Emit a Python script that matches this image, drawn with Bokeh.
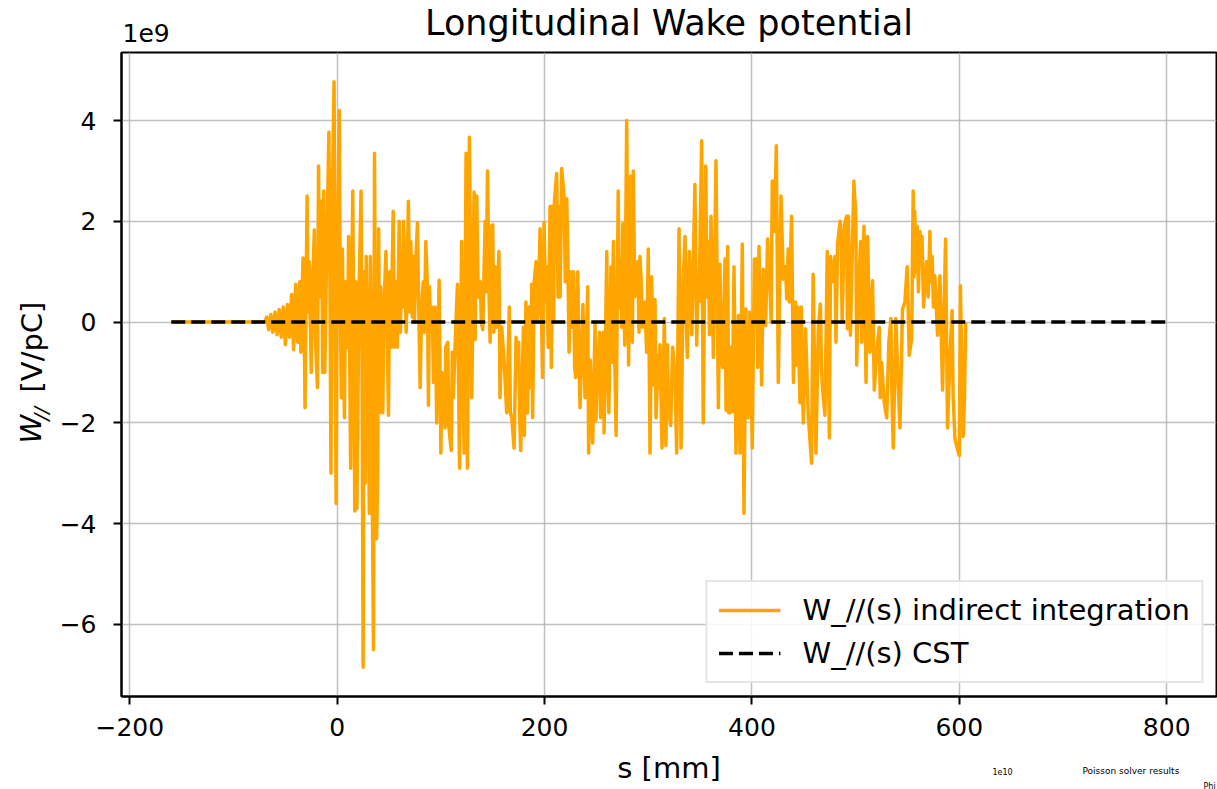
from bokeh.plotting import figure
from bokeh.models import Range1d, FixedTicker, Legend, LegendItem, Title
from bokeh.embed import file_html
from bokeh.resources import INLINE

FONT = "DejaVu Sans"

# ---- data (W values in units of 1e9 V/pC) ----
s_mm = [
    -160, -70, -68, -66, -64, -62, -60, -58, -56, -54,
    -52, -50, -48, -46, -44, -42, -40, -38, -36, -35,
    -33, -32, -31, -30, -29, -28, -27, -25, -24, -22,
    -21, -19, -18, -17, -15, -14, -13, -12, -10, -8,
    -7, -6, -5, -3, -2, -1, 0, 2, 3, 4,
    5, 7, 8, 10, 11, 13, 14, 15, 17, 18,
    19, 21, 23, 24, 25, 26, 27, 28, 30, 31,
    32, 33, 35, 36, 37, 38, 39, 40, 41, 42,
    44, 45, 47, 48, 49.5, 50.5, 52, 53, 54, 55,
    56, 57, 58, 59.8, 61, 62, 63, 64, 65.5, 66.5,
    68.7, 70, 71, 72.5, 73.6, 74.5, 75.8, 77.4, 78.5, 80,
    81.5, 83, 84, 85.5, 87, 88, 89, 90, 91.5, 93,
    94.5, 96, 98.3, 100, 101, 102.5, 104, 104.7, 106.7, 107.5,
    110, 111, 112, 114, 116, 118, 120, 121, 122.4, 124.3,
    125.6, 127.5, 129.8, 131, 132, 133, 134.6, 136, 138, 139,
    140.4, 142.7, 143.5, 145, 146.5, 147.5, 148.5, 150, 151, 152.3,
    153.5, 156, 157, 158.7, 161, 163.5, 166, 167, 168.4, 170.6,
    172.5, 173.5, 175, 176, 177, 179.6, 180.5, 182, 183.5, 185.4,
    186.5, 187.6, 188.5, 190, 191.8, 193, 194, 195.7, 198, 199.5,
    201, 202, 203.5, 205.3, 206.5, 208, 208.8, 209.5, 211.7, 213,
    214, 215, 216.5, 218.8, 220, 221.4, 222.5, 223.6, 225.5, 227,
    228, 229, 230, 232, 233, 234.2, 237, 239, 241.6, 242.5,
    244, 246.4, 248.7, 249.5, 250.3, 253, 254, 255, 256.7, 257.4,
    260, 261, 262, 264, 265, 266.4, 267.5, 269, 271, 272,
    273.4, 274.5, 275.4, 277.3, 279.2, 281, 283, 284.7, 285.6, 287,
    288, 290, 291, 292, 293, 294.3, 296.2, 297.3, 298.5, 300,
    301.7, 303.3, 304.3, 305, 306.5, 307.5, 309.7, 310.5, 311.3, 313.3,
    315.5, 317, 318.5, 319.4, 321.6, 323.5, 325.8, 327.4, 329.7, 331.6,
    333.8, 335.5, 336.5, 337.7, 339.6, 341, 342, 345, 346.7, 348,
    349, 351.5, 353, 355.4, 356.5, 358, 359, 360.5, 362.8, 365.3,
    367.6, 369.2, 370, 371.7, 373, 374, 375, 376.6, 377.5, 378.8,
    379.8, 381, 382.7, 384.6, 387, 388.5, 390.7, 392.3, 394.2, 395,
    396.5, 398, 400.3, 402.3, 403.5, 404.5, 405.5, 406.8, 409.3, 411,
    412, 413.2, 415.1, 417.4, 418.5, 419.6, 421.6, 423.5, 425.4, 428,
    430.2, 432.5, 433.5, 435, 436, 438.2, 440, 442, 443, 444,
    446.3, 447.5, 449.5, 451.7, 454.3, 457.5, 459, 461.7, 464, 466,
    467, 468, 470.4, 472.6, 474.6, 475.8, 477.4, 480, 481, 482.6,
    485, 486, 487, 489, 491.3, 492, 493, 495, 498.3, 500.2,
    501, 502.5, 504.8, 505.8, 508, 510, 511.5, 513.8, 516.3, 518,
    520, 522.7, 523.7, 525, 527.6, 530, 532, 534, 535, 536.3,
    538.8, 540.4, 542.7, 545.2, 547.5, 549.7, 551.7, 554, 555.5, 556.2,
    557, 558, 559.4, 560.5, 562, 563, 564, 565.5, 566.8, 568.4,
    570, 571.6, 572.5, 573.8, 575, 576.4, 579,
    581.3, 583.8, 586.7, 588.6, 591, 593, 594, 595.7, 597.3, 600,
    601, 603.7, 605, 606,
]
w_e9 = [
    0, 0, 0.1, -0.15, 0.15, -0.2, 0.2, -0.25, 0.25, -0.3,
    0.3, -0.45, 0.35, -0.3, 0.55, -0.55, 0.75, -0.4, 0.8, -0.6,
    1.27, 0.3, -1.7, 0.5, 2.5, 0.2, 1.2, -1.0, 0.6, 1.83,
    -0.3, -1.3, 3.1, 0.5, 2.4, -1.0, 2.6, -1.0, 1.5, 3.77,
    1.0, -3.0, 2.0, 4.77, -0.5, -3.6, 1.0, 4.2, 0.5, -1.5,
    1.45, -1.9, 0.8, -0.5, 1.7, -2.9, 0.5, 2.6, -3.75, 0.8,
    -3.7, 0.5, 2.6, -0.6, -6.85, 1.0, -3.2, 1.3, -1.5, -3.8,
    1.3, -1.0, -6.5, 3.35, -1.0, -4.3, -3.2, 1.85, -1.8, 0.7,
    -1.8, 0.2, 1.4, 0.0, -1.85, 1.0, -0.5, 1.0, 2.2, -0.5,
    0.3, 0.8, -0.5, 2.0, -0.2, 1.4, 0.3, 2.0, 1.0, -0.2,
    2.4, 0.2, 1.6, 0.1, 1.3, 0.0, 1.2, 1.97, 0.5, -1.3,
    0.3, 0.8, -0.2, 1.6, 0.7, -1.65, 0.7, -0.1, 0.3, -1.2,
    0.3, -2.0, 0.83, -2.6, -1.0, -1.5, -2.1, -0.5, -0.4, -2.05,
    -2.55, -0.6, -1.5, -0.3, 0.75, -2.9, 1.6, -0.5, -2.6, 3.35,
    -2.9, 3.67, -1.5, 0.5, 2.58, -0.35, 2.5, 0.5, 0.8, 0.0,
    -0.15, 2.0, 0.6, 3.0, 0.5, -0.4, 1.9, 1.93, -0.2, 1.1,
    -0.1, 1.4, -1.5, -0.1, -0.8, -1.8, 0.3, -1.8, -1.9, -2.5,
    -0.3, -0.85, -0.4, -1.9, -2.55, -0.1, -2.25, 0.4, -1.8, 0.3,
    -1.3, 0.75, -1.9, 0.8, 1.2, 0.0, 0.3, 1.85, -1.1, 1.97,
    0.4, 1.1, -0.5, 2.3, -0.9, 2.3, 0.0, 2.4, 2.95, 0.5,
    2.3, 0.5, 3.05, 2.5, 0.8, 2.45, 1.2, -0.6, 1.0, -0.1,
    1.0, -0.9, -1.1, 1.0, -0.5, -1.7, 0.35, -1.5, 0.7, -2.6,
    -0.75, -2.4, -0.02, -1.95, -1.4, -0.2, -1.9, -0.7, -0.2, -2.2,
    1.4, -1.1, -1.8, 1.1, -0.8, 1.6, -0.5, -2.25, 2.6, 0.3,
    1.2, -0.1, 1.95, -0.46, 4.0, -0.85, 2.9, -0.4, 3.0, 0.5,
    0.6, 1.2, -0.2, 1.3, 0.9, -0.1, 0.4, 0.0, -0.6, 1.45,
    -2.6, 0.9, -0.2, -1.25, 0.45, -1.9, -0.65, -1.3, -0.45, -2.5,
    0.07, -2.45, -0.45, -1.7, -2.05, -0.5, -1.05, -2.6, 1.85, -2.5,
    0.9, 1.7, 0.2, -0.7, 1.4, 0.7, -0.25, 2.73, -0.46, 0.8,
    0.4, 3.6, -2.0, 3.1, 0.5, 1.6, -0.25, 2.1, -0.7, 3.2,
    -1.7, 1.15, -0.6, -0.9, 0.3, 1.25, -1.75, 1.5, -1.8, -1.8,
    -0.5, -1.78, 1.1, -2.6, 0.13, -2.6, 1.55, -3.8, 0.26, -1.7,
    -1.9, 0.2, -2.5, 1.25, 0.0, 1.25, -0.9, 1.5, -1.25, 1.05,
    0.3, -0.07, 1.65, 0.7, 0.0, 2.8, 1.8, 3.5, -1.2, 2.5,
    0.85, 1.1, 0.46, 1.45, 0.4, 2.1, -1.2, 0.4, -0.85, 0.3,
    -1.6, 0.3, -2.0, -0.13, -1.85, -2.8, 0.95, -2.6, -0.13, 0.36,
    -0.9, -1.3, -1.85, 1.4, -2.3, 1.3, 0.8, 1.3, -0.4, 1.55,
    2.0, 1.6, 0.0, 1.9, 2.1, -0.13, 2.1, -0.26, 2.8, 2.05,
    -0.85, 0.5, 1.6, -0.4, 1.9, -1.2, 1.7, -0.6, 0.82, -1.35,
    -0.66, -0.1, -1.5, -0.8, -1.6, -1.9, -0.4, 0.07, -1.45, -2.5,
    0.07, -0.9, -2.1, 0.26, 0.4, 1.1, -0.66, -0.33, 2.6, 0.9,
    2.2, 1.0, 1.9, 0.6, 1.8, 1.3, 1.7, 0.3, 0.72, 1.2,
    0.5, 1.8, 0.8, 1.3, 0.3, 0.92, -0.26,
    0.92, -1.35, 1.65, -2.1, -0.66, 0.23, -1.45, -2.3, -2.45, -2.65,
    0.72, -2.27, -1.5, 0.0,
]
cst_s_mm = [-160, 800]
cst_w_e9 = [0, 0]

x_ticks = [-200, 0, 200, 400, 600, 800]
x_tick_labels = ["\u2212200", "0", "200", "400", "600", "800"]
y_ticks = [-6, -4, -2, 0, 2, 4]
y_tick_labels = ["\u22126", "\u22124", "\u22122", "0", "2", "4"]

# ---- layout ----
W, H = 1217, 789
L, R, T, B = 121, 1, 52, 93

p = figure(width=W, height=H, output_backend="svg", toolbar_location=None,
           x_range=Range1d(-208, 848), y_range=Range1d(-7.43, 5.35),
           min_border_left=L, min_border_right=R, min_border_top=T, min_border_bottom=B)
p.title.visible = False
p.background_fill_color = "white"
p.border_fill_color = "white"
p.outline_line_color = "black"
p.outline_line_width = 2

for ax, ticks, labs in ((p.xaxis[0], x_ticks, x_tick_labels), (p.yaxis[0], y_ticks, y_tick_labels)):
    ax.ticker = FixedTicker(ticks=ticks)
    ax.major_label_overrides = {t: l for t, l in zip(ticks, labs)}
    ax.major_label_text_font = FONT
    ax.major_label_text_font_size = "25px"
    ax.major_label_text_color = "black"
    ax.axis_line_color = "black"
    ax.axis_line_width = 2
    ax.major_tick_line_width = 2
    ax.major_tick_line_color = "black"
    ax.major_tick_out = 8
    ax.major_tick_in = 0
    ax.minor_tick_out = 0
    ax.minor_tick_in = 0
p.xaxis.major_label_standoff = 13
p.yaxis.major_label_standoff = 17

p.xaxis.axis_label = "s [mm]"
p.xaxis.axis_label_text_font = FONT
p.xaxis.axis_label_text_font_size = "29px"
p.xaxis.axis_label_text_font_style = "normal"
p.xaxis.axis_label_text_color = "black"
p.xaxis.axis_label_standoff = 12

p.grid.grid_line_color = "#b0b0b0"
p.grid.grid_line_width = 1.5
p.grid.grid_line_alpha = 0.8

r1 = p.line(s_mm, w_e9, line_color="orange", line_width=3.5, line_join="round")
r2 = p.line(cst_s_mm, cst_w_e9, line_color="black", line_width=3.5, line_dash="14 6")

legend = Legend(items=[LegendItem(label="W_//(s) indirect integration", renderers=[r1]),
                       LegendItem(label="W_//(s) CST", renderers=[r2])],
                location="bottom_right")
legend.label_text_font = FONT
legend.label_text_font_size = "29px"
legend.label_text_color = "black"
legend.glyph_width = 62
legend.glyph_height = 34
legend.label_height = 34
legend.label_standoff = 22
legend.spacing = 9
legend.padding = 11
legend.margin = 13
legend.border_line_color = "#cccccc"
legend.border_line_width = 2
legend.background_fill_alpha = 0.85
p.add_layout(legend)


def title(text, side, size, align, offset, standoff, style="normal", valign="bottom"):
    t = Title(text=text, align=align, offset=offset, standoff=standoff,
              text_font=FONT, text_font_size=size, text_font_style=style,
              text_color="black", vertical_align=valign)
    p.add_layout(t, side)


# above: offset text (inner row) and main title (outer row)
title("1e9", "above", "25px", "left", 1, 22)
title("Longitudinal Wake potential", "above", "35px", "center", 0, -64)
# left: y-axis label  W_{//} [V/pC]
title("//", "left", "20px", "left", 276, 8, style="italic")
title("W", "left", "29px", "left", 253, -51, style="italic")
title("[V/pC]", "left", "29px", "left", 304, -53)
# bottom-right corner: sliver of a neighbouring figure
title("Phi", "below", "8px", "left", 1082, -12, valign="top")
title("1e10", "below", "8px", "left", 871, -40, valign="top")
title("Poisson solver results", "below", "9px", "left", 961, -44, valign="top")

open("out.html", "w").write(file_html(p, INLINE))
